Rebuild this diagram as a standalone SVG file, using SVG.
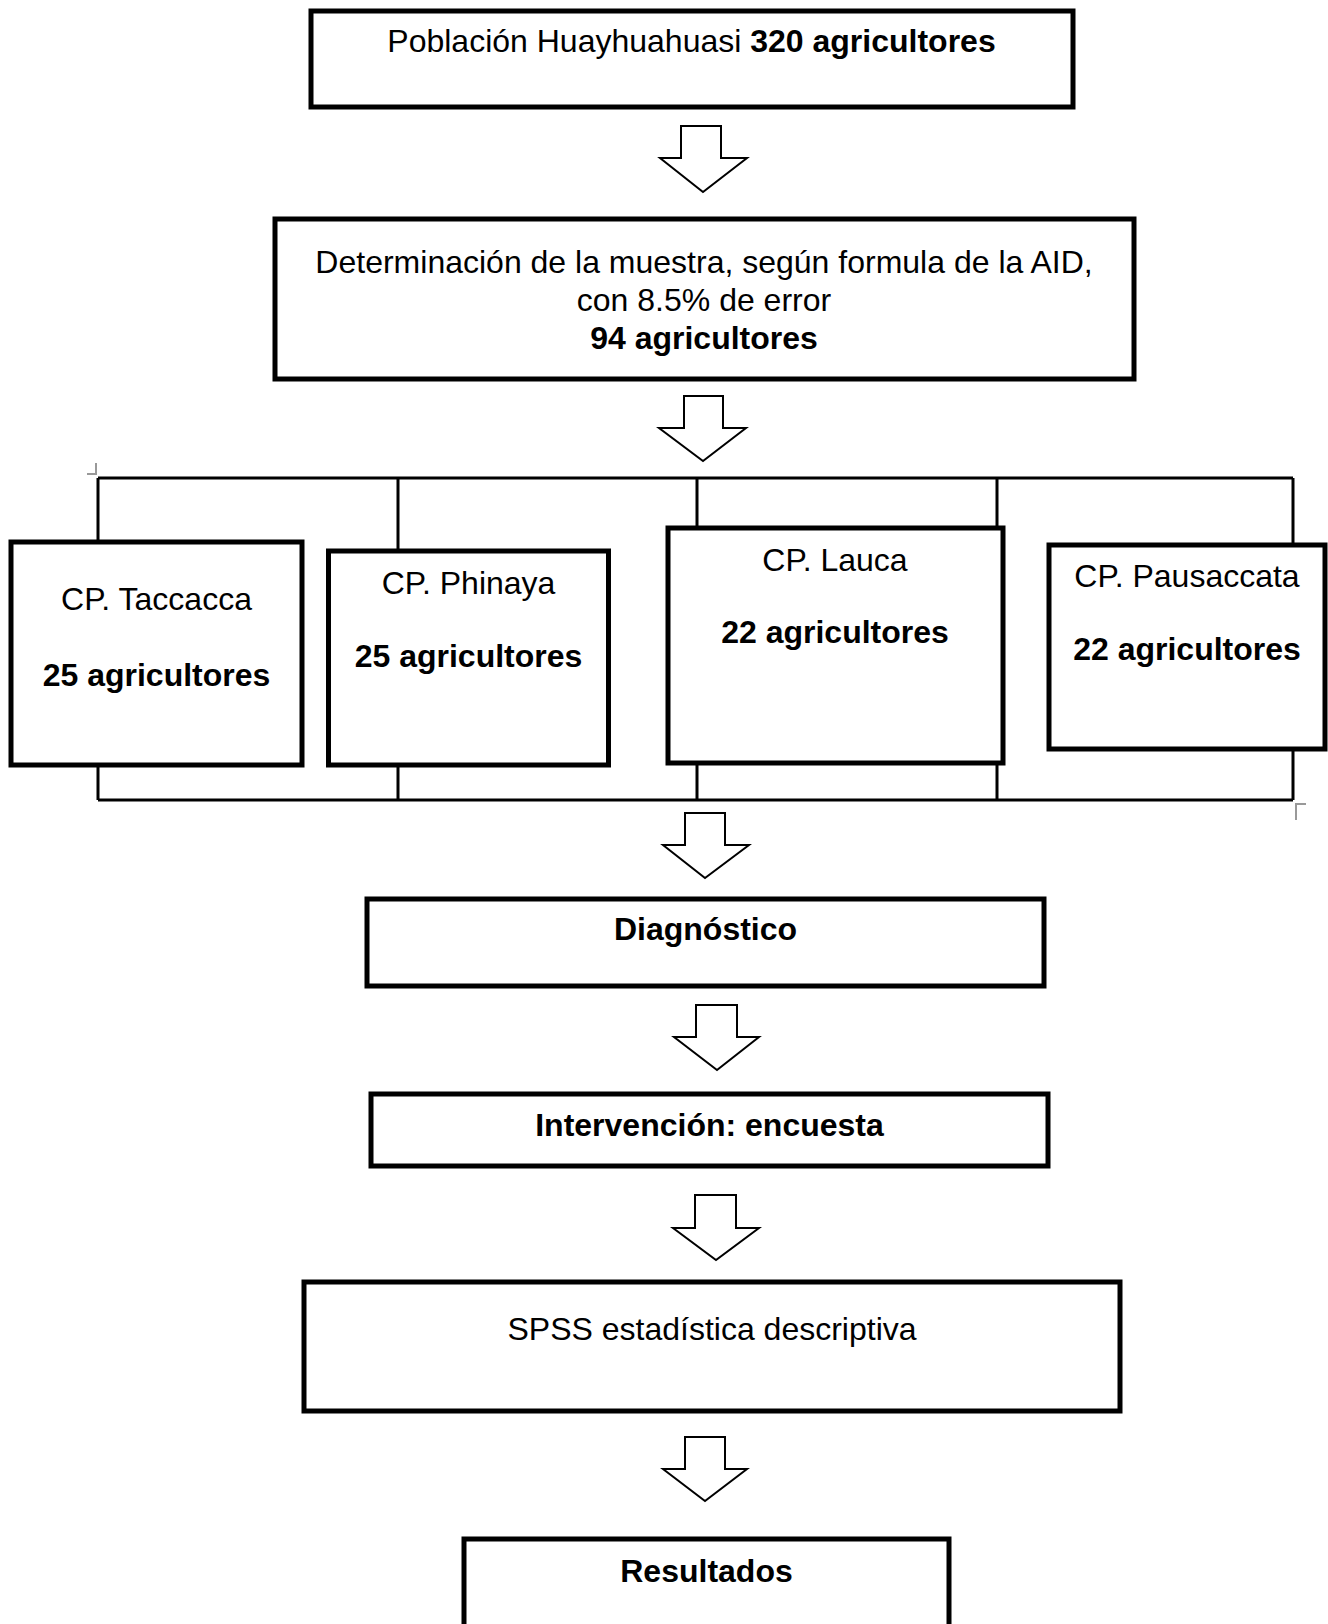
<svg xmlns="http://www.w3.org/2000/svg" width="1328" height="1624" viewBox="0 0 1328 1624">
<style>
.box{fill:#fff;stroke:#000;stroke-width:5}
.t{font-family:"Liberation Sans",Arial,sans-serif;font-size:32px;fill:#000;text-anchor:middle}
.b{font-weight:bold}
.arr{fill:#fff;stroke:#000;stroke-width:2;stroke-linejoin:miter}
.con{fill:none;stroke:#000;stroke-width:3}
.mark{fill:none;stroke:#999;stroke-width:2}
</style>
<rect width="1328" height="1624" fill="#fff"/>
<g id="connectors">
<polygon class="arr" points="681,126 721,126 721,158 747,158 703,192 660,158 681,158"/>
<polygon class="arr" points="684,396 723,396 723,428 746,428 703,461 659,428 684,428"/>
<path class="con" d="M98,478 H1293 M98,800 H1293 M98,478 V800 M398,478 V800 M697,478 V800 M997,478 V800 M1293,478 V800"/>
<path class="mark" d="M87,474 H96 V463"/>
<path class="mark" d="M1296,820 V804 H1306"/>
<polygon class="arr" points="685,813 725,813 725,845 749,845 705,878 663,845 685,845"/>
<polygon class="arr" points="696,1005 737,1005 737,1037 759,1037 717,1070 674,1037 696,1037"/>
<polygon class="arr" points="695,1195 736,1195 736,1228 759,1228 716,1260 673,1228 695,1228"/>
<polygon class="arr" points="685,1437 725,1437 725,1469 747,1469 705,1501 663,1469 685,1469"/>
</g>
<g id="n1">
<rect class="box" x="311" y="11" width="762" height="96"/>
<text class="t" x="691.5" y="52">Población Huayhuahuasi <tspan class="b">320 agricultores</tspan></text>
</g>
<g id="n2">
<rect class="box" x="275" y="219" width="859" height="160"/>
<text class="t" x="704" y="273">Determinación de la muestra, según formula de la AID,</text>
<text class="t" x="704" y="311">con 8.5% de error</text>
<text class="t b" x="704" y="349">94 agricultores</text>
</g>
<g id="n3">
<rect class="box" x="11" y="542" width="291" height="223"/>
<text class="t" x="156.5" y="610">CP. Taccacca</text>
<text class="t b" x="156.5" y="686">25 agricultores</text>
</g>
<g id="n4">
<rect class="box" x="328.5" y="551" width="280" height="214"/>
<text class="t" x="468.5" y="594">CP. Phinaya</text>
<text class="t b" x="468.5" y="667">25 agricultores</text>
</g>
<g id="n5">
<rect class="box" x="668" y="528" width="335" height="235"/>
<text class="t" x="835" y="571">CP. Lauca</text>
<text class="t b" x="835" y="643">22 agricultores</text>
</g>
<g id="n6">
<rect class="box" x="1049" y="545" width="276" height="204"/>
<text class="t" x="1187" y="587">CP. Pausaccata</text>
<text class="t b" x="1187" y="660">22 agricultores</text>
</g>
<g id="n7">
<rect class="box" x="367" y="899" width="677" height="87"/>
<text class="t b" x="705.5" y="940">Diagnóstico</text>
</g>
<g id="n8">
<rect class="box" x="371" y="1094" width="677" height="72"/>
<text class="t b" x="709.5" y="1136">Intervención: encuesta</text>
</g>
<g id="n9">
<rect class="box" x="304" y="1282" width="816" height="129"/>
<text class="t" x="712" y="1340">SPSS estadística descriptiva</text>
</g>
<g id="n10">
<rect class="box" x="464" y="1539" width="485" height="100"/>
<text class="t b" x="706.5" y="1582">Resultados</text>
</g>
</svg>
